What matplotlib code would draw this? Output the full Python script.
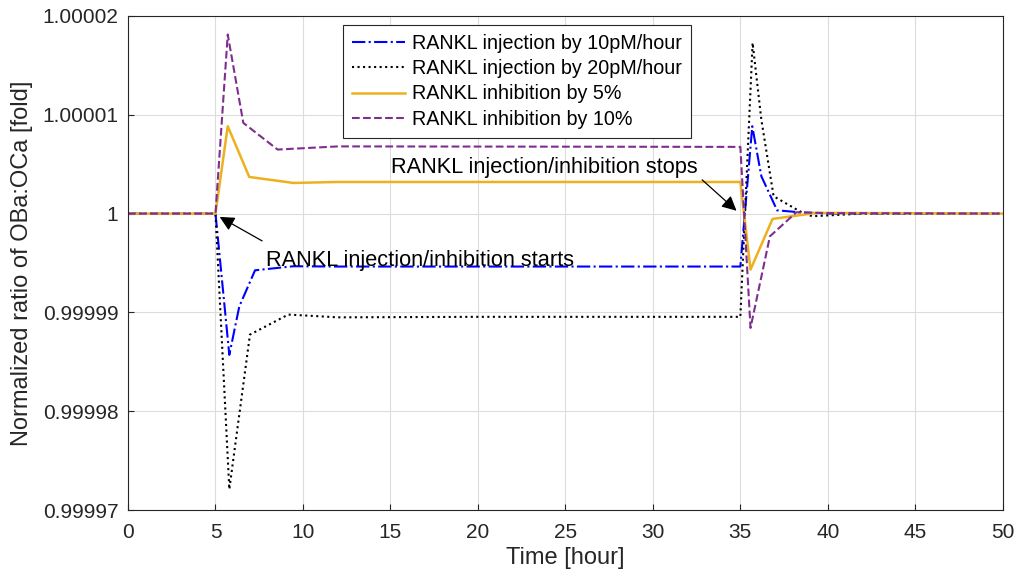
import matplotlib
matplotlib.use("Agg")
import matplotlib.pyplot as plt
from matplotlib.ticker import FixedLocator, FuncFormatter

plt.rcParams['font.family'] = ['Liberation Sans', 'DejaVu Sans']

# ---- data (deviations read in units of 1e-5, converted to ratio) ----
t_10pM = [0, 5, 5.79, 6.36, 7.26, 9.45, 12, 20, 35, 35.68, 36.2, 37.1, 38.4, 40, 50]
d_10pM = [0, 0, -1.43, -0.94, -0.574, -0.533, -0.536, -0.536, -0.536, 0.884, 0.378, 0.033, 0.013, 0, 0]

t_20pM = [0, 5, 5.79, 6.97, 9.16, 12, 20, 35, 35.7, 36.2, 36.9, 38.4, 39.1, 42, 50]
d_20pM = [0, 0, -2.79, -1.225, -1.022, -1.05, -1.045, -1.045, 1.728, 0.95, 0.175, 0.023, -0.027, 0, 0]

t_5pct = [0, 5, 5.70, 6.93, 9.45, 12, 35, 35.58, 36.84, 39.35, 50]
d_5pct = [0, 0, 0.884, 0.371, 0.31, 0.32, 0.32, -0.567, -0.054, 0.007, 0]

t_10pct = [0, 5, 5.70, 6.59, 8.55, 12, 35, 35.58, 36.69, 38.2, 40, 50]
d_10pct = [0, 0, 1.812, 0.918, 0.648, 0.68, 0.675, -1.157, -0.23, 0.013, 0.005, 0]

labels = ["RANKL injection by 10pM/hour", "RANKL injection by 20pM/hour",
          "RANKL inhibition by 5%", "RANKL inhibition by 10%"]

yticks = [0.99997, 0.99998, 0.99999, 1.0, 1.00001, 1.00002]
xticks = [0, 5, 10, 15, 20, 25, 30, 35, 40, 45, 50]

def to_ratio(d):
    return [1.0 + v * 1e-5 for v in d]

fig = plt.figure(figsize=(10.16, 5.83), dpi=100)
ax = fig.add_axes([0.126, 0.1252, 0.861, 0.8474])

ax.plot(t_10pM, to_ratio(d_10pM), color='#0000FF', ls='-.', lw=1.5, label=labels[0])
ax.plot(t_20pM, to_ratio(d_20pM), color='black', ls=':', lw=1.5, label=labels[1])
ax.plot(t_5pct, to_ratio(d_5pct), color='#EDB120', ls='-', lw=1.8, label=labels[2])
ax.plot(t_10pct, to_ratio(d_10pct), color='#7E2F8E', ls='--', lw=1.5, label=labels[3])

ax.set_xlim(0, 50)
ax.set_ylim(0.99997, 1.00002)
ax.xaxis.set_major_locator(FixedLocator(xticks))
ax.yaxis.set_major_locator(FixedLocator(yticks))

def yfmt(v, pos):
    s = f"{v:.5f}".rstrip('0').rstrip('.')
    return s
ax.yaxis.set_major_formatter(FuncFormatter(yfmt))

ax.grid(True, color='#DCDCDC', lw=0.8)
ax.set_axisbelow(True)
ax.tick_params(direction='in', labelsize=15, colors='#262626', length=4)
ax.tick_params(axis='x', pad=9)
ax.tick_params(axis='y', pad=7)
for sp in ax.spines.values():
    sp.set_color('#262626')
    sp.set_linewidth(0.8)

ax.set_xlabel("Time [hour]", fontsize=17, color='#262626', labelpad=4)
ax.set_ylabel("Normalized ratio of OBa:OCa [fold]", fontsize=17, color='#262626', labelpad=7)

# annotations
ax.annotate('', xy=(5.1, 1 - 0.02e-5), xytext=(7.8, 1 - 0.29e-5),
            arrowprops=dict(arrowstyle='-|>', color='black', lw=0.9, mutation_scale=22))
ax.text(7.9, 1 - 0.526e-5, "RANKL injection/inhibition starts", fontsize=15.7,
        va='baseline', ha='left', color='black')
ax.annotate('', xy=(34.9, 1 + 0.01e-5), xytext=(32.7, 1 + 0.36e-5),
            arrowprops=dict(arrowstyle='-|>', color='black', lw=0.9, mutation_scale=22))
ax.text(15.05, 1 + 0.415e-5, "RANKL injection/inhibition stops", fontsize=15.7,
        va='baseline', ha='left', color='black')

leg = ax.legend(loc='upper left', bbox_to_anchor=(0.2457, 0.9818), borderaxespad=0,
                fontsize=14.2, handlelength=2.7, handletextpad=0.35,
                frameon=True, fancybox=False, framealpha=1,
                edgecolor='#262626', borderpad=0.45, labelspacing=0.32)
leg.get_frame().set_linewidth(0.8)

fig.savefig("out.png", dpi=100)
